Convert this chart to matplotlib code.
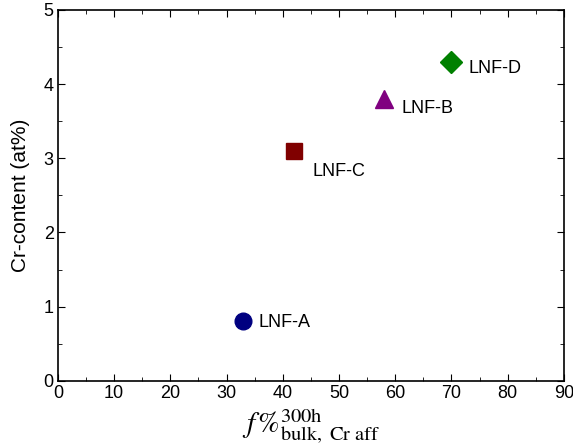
import matplotlib
matplotlib.use('Agg')
import matplotlib.pyplot as plt

plt.rcParams['font.family'] = ['Liberation Sans', 'DejaVu Sans']
plt.rcParams['mathtext.fontset'] = 'stix'

# Datos
names = ['LNF-A', 'LNF-C', 'LNF-B', 'LNF-D']
f_bulk = [33, 42, 58, 70]
cr_content = [0.8, 3.1, 3.8, 4.3]
markers = ['o', 's', '^', 'D']
colors = ['#000080', '#800000', '#800080', '#008000']
sizes = [12, 11, 13, 11]
offsets = [(11, -1), (13, -15), (13, -7), (12, -5)]

fig = plt.figure(figsize=(5.73, 4.47), dpi=100)
ax = fig.add_axes([0.101, 0.148, 0.883, 0.830])

for n, x, y, m, c, s, off in zip(names, f_bulk, cr_content, markers, colors, sizes, offsets):
    ax.plot(x, y, marker=m, color=c, markersize=s, linestyle='none')
    ax.annotate(n, xy=(x, y), xytext=off, textcoords='offset points',
                fontsize=13, va='center', ha='left')

ax.set_xlim(0, 90)
ax.set_ylim(0, 5)
ax.set_xticks(range(0, 91, 10))
ax.set_xticks(range(5, 90, 10), minor=True)
ax.set_yticks(range(0, 6))
ax.set_yticks([0.5, 1.5, 2.5, 3.5, 4.5], minor=True)
ax.tick_params(which='both', direction='in', top=True, right=True, labelsize=13)
ax.tick_params(which='major', length=5, pad=3)
ax.tick_params(which='minor', length=3)
for sp in ax.spines.values():
    sp.set_linewidth(1.2)

ax.set_ylabel('Cr-content (at%)', fontsize=15, labelpad=10)
ax.set_xlabel(r'$\mathit{f}\,\%^{\mathrm{300h}}_{\mathrm{bulk,\ Cr\ aff}}$', fontsize=21, labelpad=3)

plt.savefig('out.png', dpi=100)
plt.close()
